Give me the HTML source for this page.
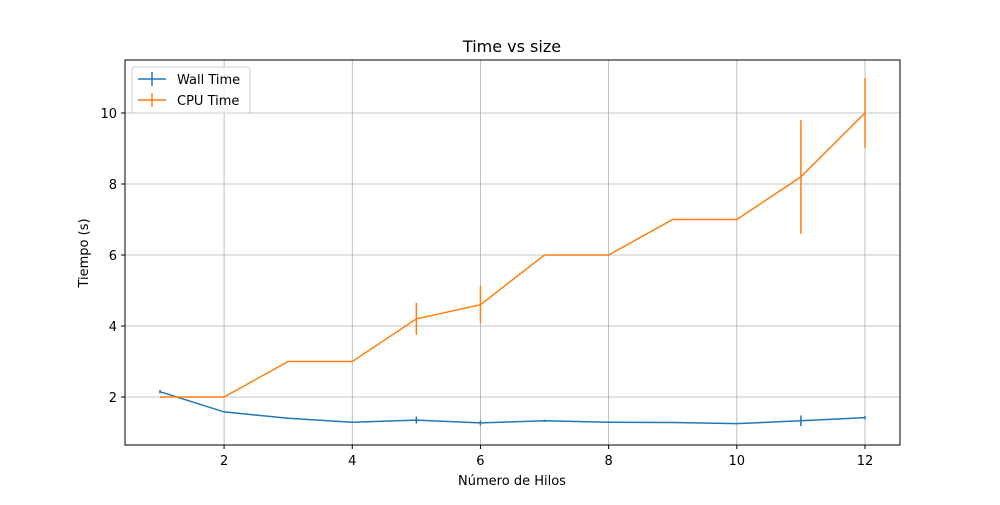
<!DOCTYPE html>
<html><head><meta charset="utf-8"><style>
body{margin:0;background:#fff;font-family:"Liberation Sans","DejaVu Sans",sans-serif}
svg text{font-family:"DejaVu Sans","Liberation Sans",sans-serif;font-size:13px;fill:#000}
</style></head><body>
<svg id="chart" width="1000" height="500">
<text x="512" y="52" text-anchor="middle" style="font-size:16px">Time vs size</text>
<text x="512" y="485" text-anchor="middle">Número de Hilos</text>
<text transform="translate(88,253) rotate(-90)" text-anchor="middle">Tiempo (s)</text>
<g id="grid"></g><g id="series"></g>
<rect x="125" y="60" width="775" height="385" fill="none" stroke="#000" stroke-width="1"/>
<g id="ticks"></g>
<g>
<rect x="132" y="67" width="118" height="46" rx="3" fill="#fff" fill-opacity="0.8" stroke="#ccc"/>
<line x1="138" y1="79" x2="166" y2="79" stroke="#1f77b4" stroke-width="1.5"/><line x1="152" y1="72" x2="152" y2="86" stroke="#1f77b4" stroke-width="1.5"/>
<text x="177" y="84">Wall Time</text>
<line x1="138" y1="100" x2="166" y2="100" stroke="#ff7f0e" stroke-width="1.5"/><line x1="152" y1="93" x2="152" y2="107" stroke="#ff7f0e" stroke-width="1.5"/>
<text x="177" y="105">CPU Time</text>
</g>
</svg>
<script>
const threads=[1,2,3,4,5,6,7,8,9,10,11,12];
const wallTime=[2.15,1.58,1.4,1.29,1.35,1.27,1.33,1.29,1.28,1.25,1.33,1.42];
const wallErr=[0.05,0,0,0,0.1,0.07,0.03,0,0,0,0.15,0.05];
const cpuTime=[2,2,3,3,4.2,4.6,6,6,7,7,8.2,10];
const cpuErr=[0,0,0,0,0.45,0.52,0,0,0,0,1.6,0.98];
const xTicks=[2,4,6,8,10,12];
const yTicks=[2,4,6,8,10];
const NS='http://www.w3.org/2000/svg';
const X=v=>160+(v-1)*64.09;
const Y=v=>468-v*35.5;
function mk(tag,attrs,parent){const e=document.createElementNS(NS,tag);for(const k in attrs)e.setAttribute(k,attrs[k]);document.getElementById(parent).appendChild(e);return e;}
xTicks.forEach(t=>{
 const g=mk('line',{x1:X(t),x2:X(t),y1:60,y2:445,stroke:'#b0b0b0','stroke-width':0.8},'grid');
 
 
 mk('line',{x1:X(t),x2:X(t),y1:445,y2:449,stroke:'#000'},'ticks');
 const tx=mk('text',{x:X(t),y:465,'text-anchor':'middle'},'ticks');tx.textContent=t;
 
 
});
yTicks.forEach(t=>{
 const g=mk('line',{x1:125,x2:900,y1:Y(t),y2:Y(t),stroke:'#b0b0b0','stroke-width':0.8},'grid');
 
 
 mk('line',{x1:121,x2:125,y1:Y(t),y2:Y(t),stroke:'#000'},'ticks');
 const tx=mk('text',{x:117,y:Y(t)+5,'text-anchor':'end'},'ticks');tx.textContent=t;
 
 
});
function series(vals,errs,color,name){
 const p=mk('polyline',{points:threads.map((t,i)=>X(t)+','+Y(vals[i])).join(' '),fill:'none',stroke:color,'stroke-width':1.5},'series');
 
 
 threads.forEach((t,i)=>{
  const e=mk('line',{x1:X(t),x2:X(t),y1:Y(vals[i]-errs[i]),y2:Y(vals[i]+errs[i]),stroke:color,'stroke-width':1.5},'series');
  
  
 });
}
series(wallTime,wallErr,'#1f77b4','wall-time');
series(cpuTime,cpuErr,'#ff7f0e','cpu-time');
</script>
</body></html>
